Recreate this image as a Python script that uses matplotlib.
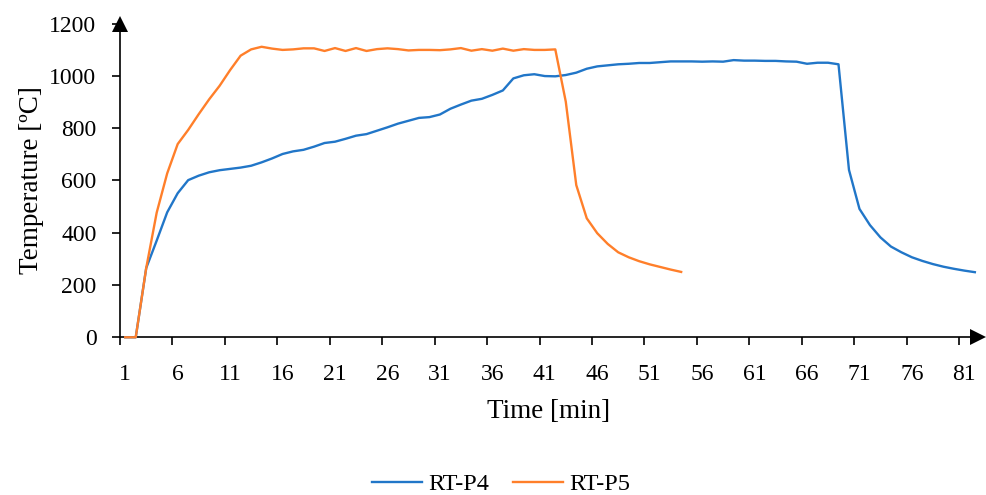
import numpy as np
import matplotlib
matplotlib.use("Agg")
from matplotlib import pyplot as plt

# temperatures read per minute (category 1..n)
rt_p4 = [0, 0, 265, 370, 478, 551, 601, 618, 631, 639,
         644, 649, 656, 669, 684, 701, 711, 717, 729, 743,
         748, 759, 771, 777, 790, 803, 817, 828, 839, 842,
         852, 874, 890, 905, 912, 927, 944, 990, 1002, 1006,
         999, 998, 1003, 1012, 1027, 1036, 1040, 1044, 1046, 1049,
         1049, 1052, 1055, 1055, 1055, 1054, 1055, 1054, 1060, 1058,
         1058, 1057, 1057, 1055, 1054, 1046, 1050, 1050, 1044, 640,
         491, 429, 382, 347, 325, 306, 292, 280, 270, 262,
         255, 249]
rt_p5 = [0, 0, 265, 477, 627, 739, 793, 853, 910, 962,
         1022, 1077, 1101, 1111, 1104, 1099, 1101, 1105, 1105, 1095,
         1106, 1095, 1106, 1095, 1102, 1105, 1102, 1097, 1099, 1099,
         1098, 1101, 1106, 1096, 1102, 1096, 1104, 1096, 1102, 1099,
         1099, 1101, 901, 582, 455, 398, 357, 325, 306, 291,
         279, 269, 259, 250]
names = ["RT-P4", "RT-P5"]
colors = ["#2176C8", "#FF7F2A"]

plt.rcParams['font.family'] = ['Liberation Serif', 'DejaVu Serif']

W, H = 987, 495
fig = plt.figure(figsize=(W/100, H/100), dpi=100)
x0, x1 = 120, 978
ytop, ybot = 23.5, 337.3
ax = fig.add_axes([x0/W, (H-ybot)/H, (x1-x0)/W, (ybot-ytop)/H])

for vals, nm, c in zip([rt_p4, rt_p5], names, colors):
    cats = np.arange(1, len(vals)+1)
    ax.plot(cats, vals, color=c, lw=1.7, label=nm, solid_joinstyle='round',
            clip_on=False, zorder=3)

ax.set_xlim(0.5, 82.3)
ax.set_ylim(0, 1200)
for s in ['top', 'right']:
    ax.spines[s].set_visible(False)
ax.spines['left'].set_linewidth(1.2)
ax.spines['bottom'].set_linewidth(1.2)

# ticks between categories, labels on categories
ax.set_xticks(np.arange(0.5, 82, 5))
ax.set_xticklabels([])
ax.set_xticks(np.arange(1, 83, 5), minor=True)
ax.set_xticklabels([str(v) for v in range(1, 83, 5)], minor=True, fontsize=17)
ax.tick_params(axis='x', which='major', direction='out', length=6, width=1.2)
ax.tick_params(axis='x', which='minor', length=0, pad=19)
ax.set_yticks(np.arange(0, 1201, 200))
ax.tick_params(axis='y', direction='out', length=6, width=1.2, pad=11, labelsize=17)

ax.set_xlabel("Time [min]", fontsize=19.5, labelpad=10)
ax.set_ylabel("Temperature [ºC]", fontsize=19.5, labelpad=4)

# axis arrows
ax.plot(0.0, 1.0, marker='^', color='black', markersize=11, transform=ax.transAxes,
        clip_on=False, markeredgewidth=0)
ax.plot(1.0, 0.0, marker='>', color='black', markersize=11, transform=ax.transAxes,
        clip_on=False, markeredgewidth=0)

ax.legend(loc='center', bbox_to_anchor=(501/W, (H-484)/H), bbox_transform=fig.transFigure,
          ncol=2, frameon=False, fontsize=17.5, handlelength=2.05, columnspacing=1.0,
          handletextpad=0.25)

fig.savefig("out.png", dpi=100)
